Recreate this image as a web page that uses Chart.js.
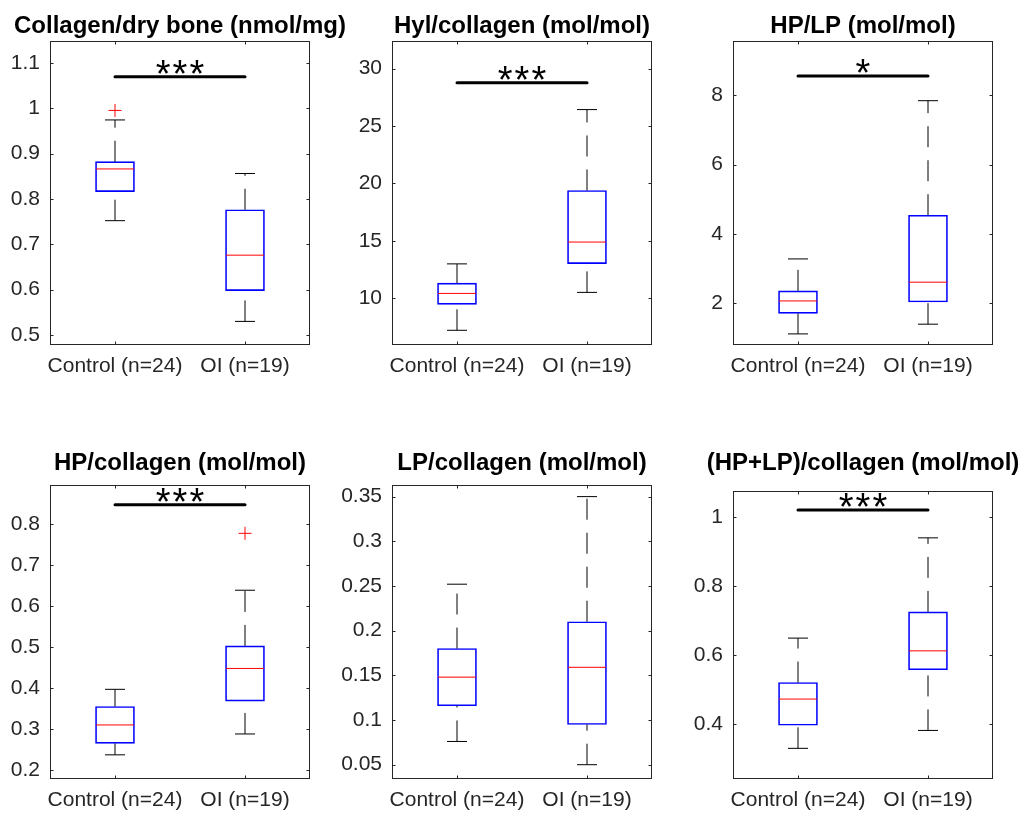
<!DOCTYPE html>
<html>
<head>
<meta charset="utf-8">
<script src="https://cdn.jsdelivr.net/npm/chart.js@4.4.0/dist/chart.umd.min.js"></script>
<style>
  html, body { margin: 0; background: #fff; }
  #fig { position: relative; width: 1022px; height: 814px; overflow: hidden; }
  #fig canvas { position: absolute; }
</style>
</head>
<body>
<div id="fig"></div>
<script>
// groups on the x axis
const groups = ['Control (n=24)', 'OI (n=19)'];

// box stats per group: [lower whisker, q1, median, q3, upper whisker]
const collagenDryBone = [[0.752, 0.816, 0.866, 0.882, 0.974], [0.530, 0.598, 0.676, 0.776, 0.856]];
const hylCollagen     = [[7.22, 9.48, 10.43, 11.33, 13.0],    [10.52, 13.02, 14.9, 19.39, 26.43]];
const hpLp            = [[1.12, 1.71, 2.07, 2.36, 3.28],      [1.40, 2.04, 2.61, 4.54, 7.84]];
const hpCollagen      = [[0.237, 0.265, 0.310, 0.355, 0.397], [0.288, 0.368, 0.448, 0.503, 0.639]];
const lpCollagen      = [[0.076, 0.116, 0.148, 0.180, 0.252], [0.050, 0.095, 0.159, 0.210, 0.350]];
const hpLpCollagen    = [[0.329, 0.396, 0.472, 0.520, 0.649], [0.381, 0.557, 0.612, 0.725, 0.940]];

// outliers per group
const collagenDryBoneOut = [[0.995], []];
const noOut = [[], []];
const hpCollagenOut = [[], [0.778]];

const titles = ['Collagen/dry bone (nmol/mg)', 'Hyl/collagen (mol/mol)', 'HP/LP (mol/mol)',
                'HP/collagen (mol/mol)', 'LP/collagen (mol/mol)', '(HP+LP)/collagen (mol/mol)'];
const stats = [collagenDryBone, hylCollagen, hpLp, hpCollagen, lpCollagen, hpLpCollagen];
const outliers = [collagenDryBoneOut, noOut, noOut, hpCollagenOut, noOut, noOut];

// significance marks and bar heights
const sigLabels = ['***', '***', '*', '***', '', '***'];
const sigHeights = [1.069, 28.76, 8.55, 0.848, null, 1.021];

// y axis ticks and limits
const yTicks = [
  [0.5, 0.6, 0.7, 0.8, 0.9, 1, 1.1],
  [10, 15, 20, 25, 30],
  [2, 4, 6, 8],
  [0.2, 0.3, 0.4, 0.5, 0.6, 0.7, 0.8],
  [0.05, 0.1, 0.15, 0.2, 0.25, 0.3, 0.35],
  [0.4, 0.6, 0.8, 1]
];
const yLimits = [[0.478, 1.148], [5.94, 32.4], [0.80, 9.56], [0.178, 0.896], [0.034, 0.363], [0.24, 1.076]];

// axes boxes on the page: left, top, right, bottom
const boxes = [[50, 41, 310, 345], [392, 41, 652, 345], [733, 41, 993, 345],
               [50, 485, 310, 779], [392, 485, 652, 779], [733, 491, 993, 779]];
const titleGaps = [8, 8, 8, 15, 15, 21];

const FONT = '"Liberation Sans", Arial, Helvetica, sans-serif';

const matlabAxes = {
  id: 'matlabAxes',
  afterDatasetsDraw(chart, args, opts) {
    const { ctx, chartArea: a, scales: { x, y } } = chart;
    ctx.save();
    ctx.strokeStyle = '#262626';
    ctx.lineWidth = 1;
    const l = Math.round(a.left) + 0.5, r = Math.round(a.right) - 0.5;
    const t = Math.round(a.top) + 0.5, b = Math.round(a.bottom) - 0.5;
    ctx.strokeRect(l, t, r - l, b - t);
    ctx.beginPath();
    y.ticks.forEach(tk => {
      const py = Math.round(y.getPixelForValue(tk.value)) + 0.5;
      ctx.moveTo(l, py); ctx.lineTo(l + 3, py);
      ctx.moveTo(r, py); ctx.lineTo(r - 3, py);
    });
    x.ticks.forEach(tk => {
      const px = Math.round(x.getPixelForValue(tk.value)) + 0.5;
      ctx.moveTo(px, b); ctx.lineTo(px, b - 3);
      ctx.moveTo(px, t); ctx.lineTo(px, t + 3);
    });
    ctx.stroke();

    ctx.fillStyle = '#000';
    ctx.textAlign = 'center';
    ctx.textBaseline = 'alphabetic';
    ctx.font = 'bold 24px ' + FONT;
    ctx.fillText(opts.title, (a.left + a.right) / 2, a.top - opts.titleGap);
    if (opts.stars) {
      // stars sit just above the bar
      ctx.font = '38px ' + FONT;
      ctx.letterSpacing = '2px';
      ctx.fillText(opts.stars, x.getPixelForValue(1.5) + 1, y.getPixelForValue(opts.starsAt) + 10);
    }
    ctx.restore();
  }
};

const fig = document.getElementById('fig');

stats.forEach((st, i) => {
  const [L, T, R, B] = boxes[i];
  const canvas = document.createElement('canvas');
  canvas.width = R - L + 100;
  canvas.height = B - T + 90;
  canvas.style.left = (L - 50) + 'px';
  canvas.style.top = (T - 45) + 'px';
  fig.appendChild(canvas);

  const xs = [1, 2];
  const whiskers = [];
  xs.forEach((xv, k) => {
    whiskers.push({ x: xv, y: st[k][0] }, { x: xv, y: st[k][1] }, { x: xv, y: null });
    whiskers.push({ x: xv, y: st[k][3] }, { x: xv, y: st[k][4] }, { x: xv, y: null });
  });
  const caps = [];
  xs.forEach((xv, k) => { caps.push({ x: xv, y: st[k][0] }, { x: xv, y: st[k][4] }); });
  const medians = xs.map((xv, k) => ({ x: xv, y: st[k][2] }));
  const outs = [];
  xs.forEach((xv, k) => outliers[i][k].forEach(v => outs.push({ x: xv, y: v })));

  const datasets = [
    { type: 'scatter', data: outs, pointStyle: 'cross', pointRadius: 6.5, borderColor: '#ff0000', borderWidth: 1 },
    { type: 'scatter', data: medians, pointStyle: 'line', pointRadius: 19, borderColor: '#ff0000', borderWidth: 1 },
    { type: 'scatter', data: caps, pointStyle: 'line', pointRadius: 10, borderColor: '#000', borderWidth: 1 },
    { type: 'line', data: whiskers, borderColor: '#000', borderWidth: 1, borderDash: [21, 13],
      pointRadius: 0, fill: false, spanGaps: false },
    { type: 'bar', data: xs.map((xv, k) => ({ x: xv, y: [st[k][1], st[k][3]] })),
      backgroundColor: 'rgba(0,0,0,0)', borderColor: '#0000ff', borderWidth: 1,
      borderSkipped: false, barThickness: 39 }
  ];
  if (sigHeights[i] !== null) {
    datasets.unshift({ type: 'line', data: [{ x: 1, y: sigHeights[i] }, { x: 2, y: sigHeights[i] }],
      borderColor: '#000', borderWidth: 3, borderCapStyle: 'round', pointRadius: 0 });
  }

  new Chart(canvas.getContext('2d'), {
    type: 'bar',
    data: { datasets },
    options: {
      responsive: false,
      animation: false,
      events: [],
      layout: { padding: { top: 45, right: 50, left: 0, bottom: 0 } },
      plugins: {
        legend: { display: false },
        tooltip: { enabled: false },
        matlabAxes: { title: titles[i], titleGap: titleGaps[i], stars: sigLabels[i], starsAt: sigHeights[i] }
      },
      scales: {
        x: {
          type: 'linear', min: 0.5, max: 2.5, offset: false,
          afterBuildTicks: s => { s.ticks = xs.map(v => ({ value: v })); },
          afterFit: s => { s.height = 45; },
          grid: { display: false, drawTicks: false },
          border: { display: false },
          ticks: { callback: v => groups[Math.round(v) - 1], color: '#262626', padding: 9,
                   maxRotation: 0, autoSkip: false, font: { family: FONT, size: 21 } }
        },
        y: {
          type: 'linear', min: yLimits[i][0], max: yLimits[i][1],
          afterBuildTicks: s => { s.ticks = yTicks[i].map(v => ({ value: v })); },
          afterFit: s => { s.width = 50; },
          grid: { display: false, drawTicks: false },
          border: { display: false },
          ticks: { callback: v => String(+v.toFixed(3)), color: '#262626', padding: 10,
                   font: { family: FONT, size: 21 } }
        }
      }
    },
    plugins: [matlabAxes]
  });
});
</script>
</body>
</html>
